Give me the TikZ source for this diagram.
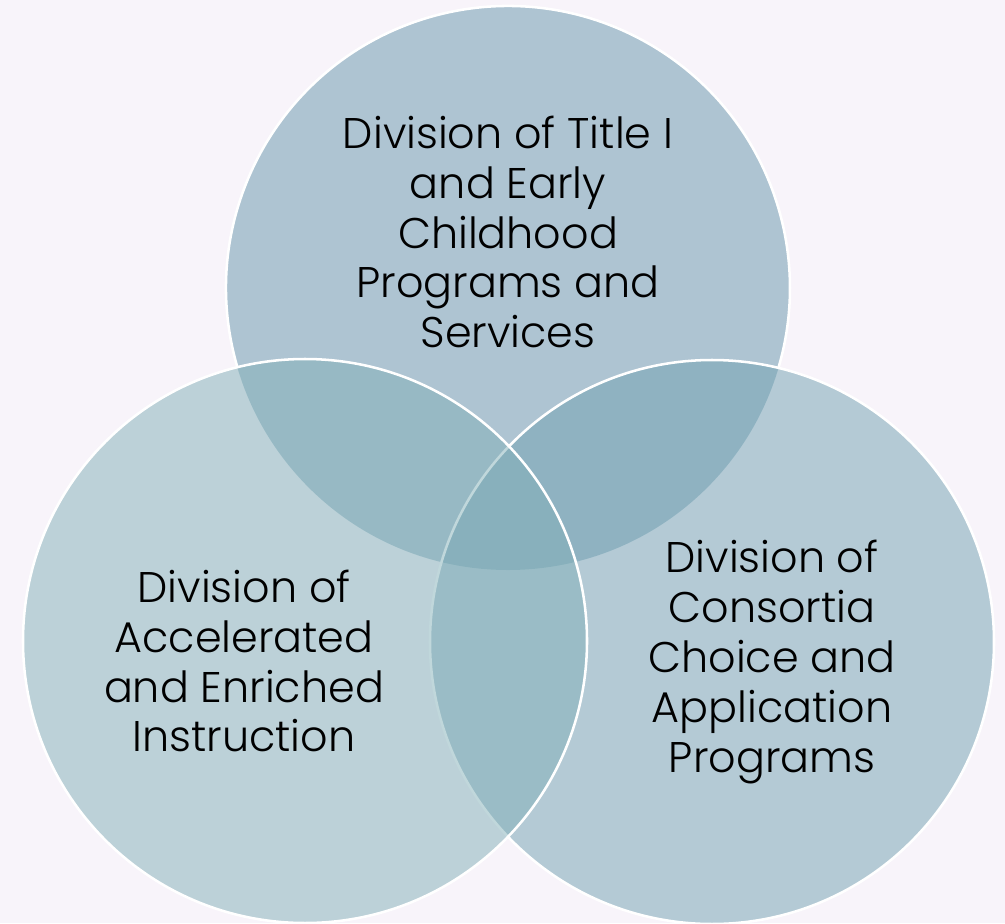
\documentclass[tikz,border=0pt]{standalone}
\usepackage{fontspec}
\setmainfont{Poppins}[UprightFont = * Light]
\definecolor{bgcol}{RGB}{248,244,250}
\definecolor{topcol}{RGB}{102,150,172}
\definecolor{rightcol}{RGB}{114,162,178}
\definecolor{leftcol}{RGB}{130,176,184}
\begin{document}
\begin{tikzpicture}[x = 0.025 cm, y = -0.025 cm,
	 ring/.style = {fill opacity = 0.5},
	 rim/.style = {draw = white, line width = 1.8 pt},
	 label/.style = {align = center, text = black, font = \fontsize{30.5}{35.5}\selectfont}]
	 \fill[bgcol] (0, 0) rectangle (1005, 923);
	 \useasboundingbox (0, 0) rectangle (1005, 923);
	 \clip (0, 0) rectangle (1005, 923);
	 
	 \fill[ring, topcol] (508, 288) circle (282);
	 \draw[rim] (508, 288) ++(163.7 : 282) arc (163.7 : 376.3 : 282);
	 
	 \filldraw[ring, rightcol, rim] (712, 642) circle (282);
	 
	 \filldraw[ring, leftcol, rim] (305, 641) circle (282);
	 
	 \node[label] (early) at (508, 232) {Division of Title I\\and Early\\Childhood\\Programs and\\Services};
	 \node[label] (accel) at (244, 661) {Division of\\Accelerated\\and Enriched\\Instruction};
	 \node[label] (choice) at (772, 662) {Division of\\Consortia\\Choice and\\Application\\Programs};
\end{tikzpicture}
\end{document}
